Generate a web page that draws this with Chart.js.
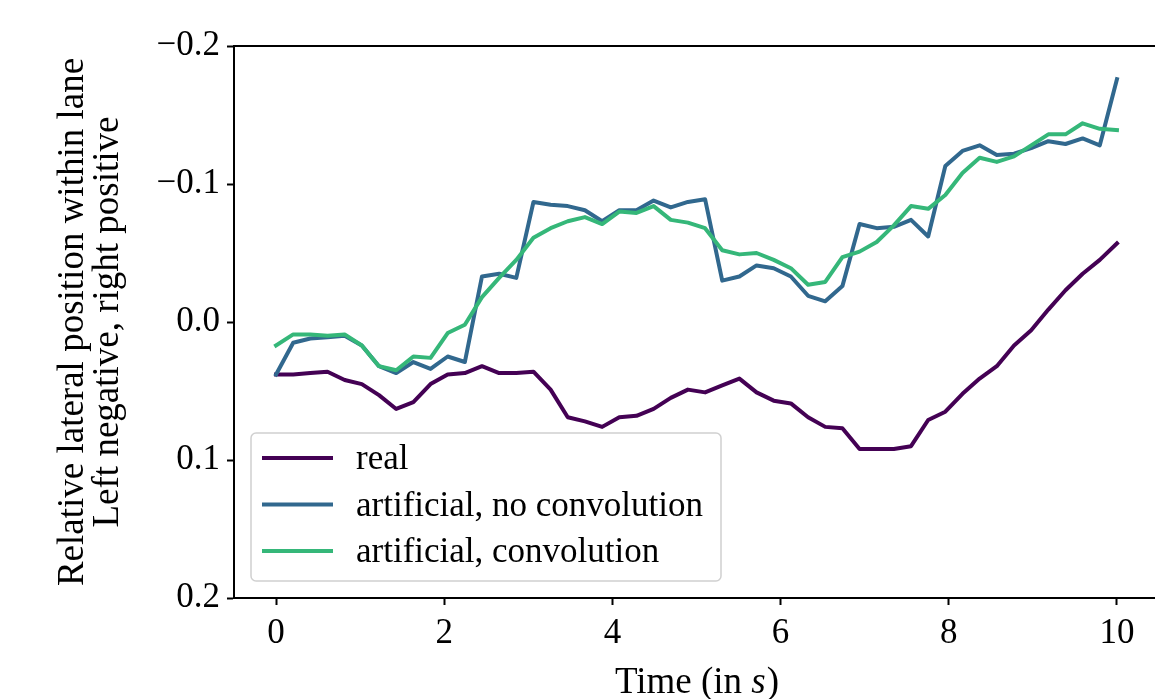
<!DOCTYPE html>
<html>
<head>
<meta charset="utf-8">
<script src="https://cdn.jsdelivr.net/npm/chart.js@4/dist/chart.umd.min.js"></script>
<style>
  html, body { margin: 0; padding: 0; background: #fff; overflow: hidden; }
  #wrap { width: 1162px; height: 699px; }
</style>
</head>
<body>
<div id="wrap"><canvas id="chart" width="1162" height="699"></canvas></div>
<script>
// time in seconds
const times = [
  0, 0.204, 0.408, 0.612, 0.816, 1.02, 1.224, 1.429, 1.633, 1.837,
  2.041, 2.245, 2.449, 2.653, 2.857, 3.061, 3.265, 3.469, 3.673, 3.878,
  4.082, 4.286, 4.49, 4.694, 4.898, 5.102, 5.306, 5.51, 5.714, 5.918,
  6.122, 6.327, 6.531, 6.735, 6.939, 7.143, 7.347, 7.551, 7.755, 7.959,
  8.163, 8.367, 8.571, 8.776, 8.98, 9.184, 9.388, 9.592, 9.796, 10,
];

const real = [
  0.038, 0.038, 0.037, 0.036, 0.042, 0.045, 0.053, 0.063, 0.058, 0.045,
  0.038, 0.037, 0.032, 0.037, 0.037, 0.036, 0.049, 0.069, 0.072, 0.076,
  0.069, 0.068, 0.063, 0.055, 0.049, 0.051, 0.046, 0.041, 0.051, 0.057,
  0.059, 0.069, 0.076, 0.077, 0.092, 0.092, 0.092, 0.09, 0.071, 0.065,
  0.052, 0.041, 0.032, 0.017, 0.006, -0.009, -0.023, -0.035, -0.045, -0.057,
];

const noConvolution = [
  0.038, 0.015, 0.012, 0.011, 0.01, 0.017, 0.032, 0.037, 0.029, 0.034,
  0.025, 0.029, -0.033, -0.035, -0.032, -0.087, -0.085, -0.084, -0.081, -0.073,
  -0.081, -0.081, -0.088, -0.083, -0.087, -0.089, -0.03, -0.033, -0.041, -0.039,
  -0.033, -0.019, -0.015, -0.026, -0.071, -0.068, -0.069, -0.074, -0.062, -0.113,
  -0.124, -0.128, -0.121, -0.122, -0.126, -0.131, -0.129, -0.133, -0.128, -0.176,
];

const convolution = [
  0.017, 0.009, 0.009, 0.01, 0.009, 0.017, 0.032, 0.035, 0.025, 0.026,
  0.008, 0.002, -0.018, -0.032, -0.045, -0.061, -0.068, -0.073, -0.076, -0.071,
  -0.08, -0.079, -0.084, -0.074, -0.072, -0.068, -0.052, -0.049, -0.05, -0.045,
  -0.039, -0.027, -0.029, -0.047, -0.051, -0.058, -0.07, -0.084, -0.082, -0.092,
  -0.108, -0.119, -0.116, -0.12, -0.128, -0.136, -0.136, -0.144, -0.14, -0.139,
];

const seriesLabels = ["real", "artificial, no convolution", "artificial, convolution"];
const xTicks = [0, 2, 4, 6, 8, 10];
const yTicks = [-0.2, -0.1, 0, 0.1, 0.2];
const yTitle = ["Relative lateral position within lane", "Left negative, right positive"];

const FONT = "'Liberation Serif', 'Times New Roman', serif";
const colors = ["#440154", "#31688e", "#35b779"];

const toPoints = (arr) => arr.map((v, i) => ({ x: times[i], y: v }));

const makeSet = (label, values, color, order) => ({
  label,
  data: toPoints(values),
  borderColor: color,
  backgroundColor: color,
  borderWidth: 4,
  borderJoinStyle: "round",
  borderCapStyle: "square",
  pointRadius: 0,
  tension: 0,
  fill: false,
  order,
});

/* frame, titles and legend box */
const decorations = {
  id: "decorations",
  afterDraw(chart) {
    const { ctx, chartArea: a } = chart;
    ctx.save();

    // top spine (left and bottom come from the axes)
    ctx.strokeStyle = "#000";
    ctx.lineWidth = 2;
    ctx.beginPath();
    ctx.moveTo(a.left, a.top);
    ctx.lineTo(a.right, a.top);
    ctx.lineTo(a.right, a.bottom);
    ctx.stroke();

    // y title, two lines rotated
    ctx.fillStyle = "#000";
    ctx.font = "37px " + FONT;
    ctx.textAlign = "center";
    ctx.textBaseline = "alphabetic";
    const midY = (a.top + a.bottom) / 2;
    [83, 118].forEach((bx, i) => {
      ctx.save();
      ctx.translate(bx, midY);
      ctx.rotate(-Math.PI / 2);
      ctx.fillText(yTitle[i], 0, 0);
      ctx.restore();
    });

    // x title with italic s
    const p1 = "Time (in ";
    const p2 = "s";
    const p3 = ")";
    ctx.textAlign = "left";
    ctx.font = "37px " + FONT;
    const w1 = ctx.measureText(p1).width;
    const w3 = ctx.measureText(p3).width;
    ctx.font = "italic 37px " + FONT;
    const w2 = ctx.measureText(p2).width;
    const midX = (a.left + a.right) / 2;
    let tx = midX - (w1 + w2 + w3) / 2;
    const ty = 693;
    ctx.font = "37px " + FONT;
    ctx.fillText(p1, tx, ty);
    tx += w1;
    ctx.font = "italic 37px " + FONT;
    ctx.fillText(p2, tx, ty);
    tx += w2 + 1;
    ctx.font = "37px " + FONT;
    ctx.fillText(p3, tx, ty);

    // legend, lower left inside the axes
    const bx = a.left + 17;
    const by = a.bottom - 165;
    const bw = 470;
    const bh = 148;
    ctx.beginPath();
    ctx.roundRect(bx, by, bw, bh, 5);
    ctx.fillStyle = "rgba(255,255,255,0.8)";
    ctx.fill();
    ctx.strokeStyle = "#d0d0d0";
    ctx.lineWidth = 1.5;
    ctx.stroke();

    ctx.font = "35px " + FONT;
    ctx.textBaseline = "alphabetic";
    chart.data.datasets.forEach((ds, i) => {
      const ly = by + 25 + i * 46.5;
      ctx.strokeStyle = ds.borderColor;
      ctx.lineWidth = 4;
      ctx.lineCap = "butt";
      ctx.beginPath();
      ctx.moveTo(bx + 11, ly);
      ctx.lineTo(bx + 82, ly);
      ctx.stroke();
      ctx.fillStyle = "#000";
      ctx.fillText(ds.label, bx + 105, ly + 11);
    });

    ctx.restore();
  },
};

const config = {
  type: "line",
  data: {
    datasets: [
      makeSet(seriesLabels[0], real, colors[0], 3),
      makeSet(seriesLabels[1], noConvolution, colors[1], 2),
      makeSet(seriesLabels[2], convolution, colors[2], 1),
    ],
  },
  plugins: [decorations],
  options: {
    responsive: false,
    animation: false,
    layout: { padding: { left: 0, top: 46, right: 3, bottom: 0 } },
    plugins: {
      legend: { display: false },
      tooltip: { enabled: false },
    },
    scales: {
      x: {
        type: "linear",
        min: -0.5,
        max: 10.5,
        afterBuildTicks: (scale) => {
          scale.ticks = xTicks.map((v) => ({ value: v }));
        },
        afterFit: (scale) => {
          scale.height = 101;
        },
        grid: {
          display: true,
          drawOnChartArea: false,
          drawTicks: true,
          tickLength: 7,
          tickWidth: 2,
          tickColor: "#000",
        },
        border: { display: true, color: "#000", width: 2 },
        ticks: {
          color: "#000",
          padding: 8,
          maxRotation: 0,
          font: { family: FONT, size: 35 },
          callback: (v) => String(v),
        },
      },
      y: {
        type: "linear",
        reverse: true,
        min: -0.2,
        max: 0.2,
        afterBuildTicks: (scale) => {
          scale.ticks = yTicks.map((v) => ({ value: v }));
        },
        afterFit: (scale) => {
          scale.width = 234;
        },
        grid: {
          display: true,
          drawOnChartArea: false,
          drawTicks: true,
          tickLength: 7,
          tickWidth: 2,
          tickColor: "#000",
        },
        border: { display: true, color: "#000", width: 2 },
        ticks: {
          color: "#000",
          padding: 7,
          font: { family: FONT, size: 35 },
          callback: (v) => {
            const r = Math.round(v * 10) / 10;
            return (r < 0 ? "\u2212" : "") + Math.abs(r).toFixed(1);
          },
        },
      },
    },
  },
};

const myChart = new Chart(document.getElementById("chart"), config);
</script>
</body>
</html>
